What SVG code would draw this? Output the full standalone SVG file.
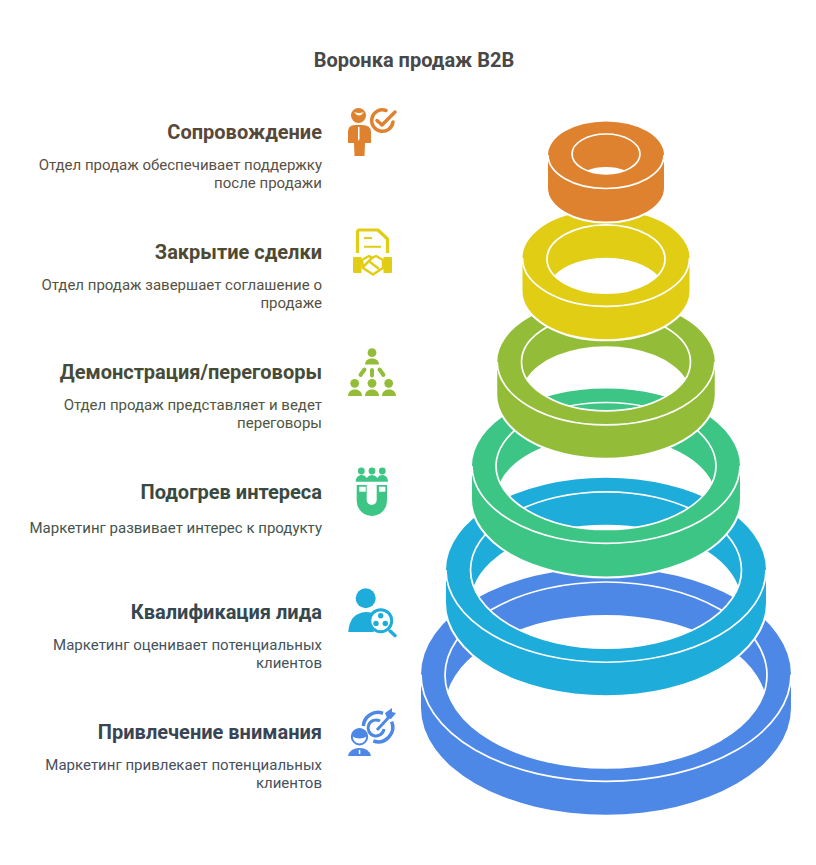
<svg xmlns="http://www.w3.org/2000/svg" width="816" height="865" viewBox="0 0 816 865">
<style>
text{font-family:Roboto,"Liberation Sans",sans-serif}
.t{font-size:20px;font-weight:700;text-anchor:end}
.d{font-size:15px;text-anchor:end}
.halo{fill:none;stroke:#fff;stroke-width:4}
.line{fill:none;stroke:#fff;stroke-width:1.700}
</style>
<rect width="816" height="865" fill="#fff"/>
<text id="title" x="414" y="67" text-anchor="middle" style="font-size:20px;font-weight:700" fill="#484848">Воронка продаж B2B</text>
<g id="connectors"/>
<g id="ring-attention">
<path class="halo" d="M421 674.500A185 106.800 0 0 1 791 674.500V708A185 106.800 0 0 1 421 708Z"/>
<path fill="#4E88E7" fill-rule="evenodd" d="M421 674.500A185 106.800 0 0 1 791 674.500V708A185 106.800 0 0 1 421 708ZM447.550 691.500A161 93 0 0 1 764.450 691.500A161 93 0 0 1 447.550 691.500Z"/>
<path class="line" d="M421 674.500A185 106.800 0 0 0 791 674.500"/>
<ellipse class="line" cx="606" cy="675" rx="161" ry="93"/>
</g>
<g id="ring-lead">
<path class="halo" d="M446 570A160 92.300 0 0 1 766 570V603A160 92.300 0 0 1 446 603Z"/>
<path fill="#1EACDB" fill-rule="evenodd" d="M446 570A160 92.300 0 0 1 766 570V603A160 92.300 0 0 1 446 603ZM473.550 586.500A135.500 78.200 0 0 1 738.450 586.500A135.500 78.200 0 0 1 473.550 586.500Z"/>
<path class="line" d="M446 570A160 92.300 0 0 0 766 570"/>
<ellipse class="line" cx="606" cy="570" rx="135.500" ry="78.200"/>
</g>
<g id="ring-interest">
<path class="halo" d="M472 466A134 77.400 0 0 1 740 466V499A134 77.400 0 0 1 472 499Z"/>
<path fill="#3DC585" fill-rule="evenodd" d="M472 466A134 77.400 0 0 1 740 466V499A134 77.400 0 0 1 472 499ZM499.800 482.500A110 63.500 0 0 1 712.200 482.500A110 63.500 0 0 1 499.800 482.500Z"/>
<path class="line" d="M472 466A134 77.400 0 0 0 740 466"/>
<ellipse class="line" cx="606" cy="466" rx="110" ry="63.500"/>
</g>
<g id="ring-demo">
<path class="halo" d="M497.250 362A108.750 62.800 0 0 1 714.750 362V395A108.750 62.800 0 0 1 497.250 395Z"/>
<path fill="#93BD38" fill-rule="evenodd" d="M497.250 362A108.750 62.800 0 0 1 714.750 362V395A108.750 62.800 0 0 1 497.250 395ZM526.500 378.500A84.500 48.800 0 0 1 685.500 378.500A84.500 48.800 0 0 1 526.500 378.500Z"/>
<path class="line" d="M497.250 362A108.750 62.800 0 0 0 714.750 362"/>
<ellipse class="line" cx="606" cy="362" rx="84.500" ry="48.800"/>
</g>
<g id="ring-close">
<path class="halo" d="M522.500 258A83.500 48.300 0 0 1 689.500 258V291A83.500 48.300 0 0 1 522.500 291Z"/>
<path fill="#E0CD14" fill-rule="evenodd" d="M522.500 258A83.500 48.300 0 0 1 689.500 258V291A83.500 48.300 0 0 1 522.500 291ZM554.300 275.500A59 34.200 0 0 1 657.700 275.500A59 34.200 0 0 1 554.300 275.500Z"/>
<path class="line" d="M522.500 258A83.500 48.300 0 0 0 689.500 258"/>
<ellipse class="line" cx="606" cy="259" rx="59" ry="34.200"/>
</g>
<g id="ring-support">
<path class="halo" d="M548 155A58 33.500 0 0 1 664 155V188A58 33.500 0 0 1 548 188Z"/>
<path fill="#DF8230" fill-rule="evenodd" d="M548 155A58 33.500 0 0 1 664 155V188A58 33.500 0 0 1 548 188ZM586.800 170.500A34 20 0 0 1 625.200 170.500A34 20 0 0 1 586.800 170.500Z"/>
<path class="line" d="M548 155A58 33.500 0 0 0 664 155"/>
<ellipse class="line" cx="606" cy="154" rx="34" ry="20"/>
</g>
<g id="label-support">
<text class="t" x="322" y="139" fill="#57483A">Сопровождение</text>
<text class="d" x="322" y="170" fill="#5A5046">Отдел продаж обеспечивает поддержку</text>
<text class="d" x="322" y="188" fill="#5A5046">после продажи</text>
</g>
<g id="label-close">
<text class="t" x="322" y="259" fill="#4D4A33">Закрытие сделки</text>
<text class="d" x="322" y="290" fill="#55523F">Отдел продаж завершает соглашение о</text>
<text class="d" x="322" y="308" fill="#55523F">продаже</text>
</g>
<g id="label-demo">
<text class="t" x="322" y="379" fill="#464B37">Демонстрация/переговоры</text>
<text class="d" x="322" y="410" fill="#50553F">Отдел продаж представляет и ведет</text>
<text class="d" x="322" y="428" fill="#50553F">переговоры</text>
</g>
<g id="label-interest">
<text class="t" x="322" y="499" fill="#384A41">Подогрев интереса</text>
<text class="d" x="322" y="533" fill="#45544D">Маркетинг развивает интерес к продукту</text>
</g>
<g id="label-lead">
<text class="t" x="322" y="619" fill="#35474F">Квалификация лида</text>
<text class="d" x="322" y="650" fill="#44535A">Маркетинг оценивает потенциальных</text>
<text class="d" x="322" y="668" fill="#44535A">клиентов</text>
</g>
<g id="label-attention">
<text class="t" x="322" y="739" fill="#394454">Привлечение внимания</text>
<text class="d" x="322" y="770" fill="#47505E">Маркетинг привлекает потенциальных</text>
<text class="d" x="322" y="788" fill="#47505E">клиентов</text>
</g>
<g id="icon-support" fill="#DF8230">
<circle cx="358.500" cy="115.500" r="7.500"/>
<path d="M354 112Q359 119 364 112Q359 114 354 112Z" fill="#fff"/>
<path d="M348 143V132Q348 125 355 125H362Q371 125 371 132V143H365L364.500 156H354.500L354 143Z"/>
<path d="M358 127H359.500V139L358.750 141L358 139Z" fill="#fff"/>
<path d="M386 110.500A10.700 10.700 0 1 0 393 122" fill="none" stroke="#DF8230" stroke-width="3.500" stroke-linecap="round"/>
<path d="M377 120.500L382 125L395 112" fill="none" stroke="#DF8230" stroke-width="3.500" stroke-linecap="round" stroke-linejoin="round"/>
</g>
<g id="icon-close" fill="#E0CD14">
<path d="M357.500 253V232Q357.500 230 359.500 230H378L387.500 239V253" fill="none" stroke="#E0CD14" stroke-width="3.200" stroke-linejoin="round"/>
<path d="M364 238H372M364 246.700H381" stroke="#E0CD14" stroke-width="2" fill="none"/>
<path d="M354 257H361.500V273H354Q353 273 353 272V258Q353 257 354 257ZM383.500 257H391Q392 257 392 258V272Q392 273 391 273H383.500Z"/>
<path d="M362 260L369 256L372 258L376 256L383 260V268L373 274.500L363 268Z" fill="none" stroke="#E0CD14" stroke-width="2.500" stroke-linejoin="round"/>
<path d="M363 267L372 258M370 262L379 269" fill="none" stroke="#E0CD14" stroke-width="2.500"/>
</g>
<g id="icon-demo" fill="#93BD38">
<circle cx="372" cy="352.700" r="4.400"/>
<path d="M365 364.500C365 360 369 358.500 372 358.500S379 360 379 364.500Z"/>
<path d="M360.500 375L364.500 369.500M372 370V375.500M383.500 375L379.500 369.500" stroke="#93BD38" stroke-width="4" stroke-linecap="round"/>
<circle cx="354.700" cy="383.300" r="4.400"/><path d="M348 396C348 391 352 389.500 355 389.500S362 391 362 396Z"/>
<circle cx="372" cy="383.300" r="4.400"/><path d="M365 396C365 391 369 389.500 372 389.500S379 391 379 396Z"/>
<circle cx="388.700" cy="383.300" r="4.400"/><path d="M382 396C382 391 386 389.500 389 389.500S396 391 396 396Z"/>
</g>
<g id="icon-interest" fill="#3DC585">
<circle cx="361.300" cy="471" r="3.400"/><circle cx="372" cy="471" r="3.400"/><circle cx="382.300" cy="471" r="3.400"/>
<path d="M355.700 481.700C356 477 359 475 361.300 475Q365 475 366.500 478Q369 475 372 475T377.500 478Q379 475 382.300 475C385 475 388 477 388 481.700Z"/>
<path d="M356.700 485H387V501A15.150 15 0 0 1 356.700 501Z"/>
<path d="M366.700 485H376.700V500A5 5 0 0 1 366.700 500Z" fill="#fff"/>
<rect x="359.300" y="486.700" width="6.400" height="5" fill="#fff"/>
<rect x="379" y="486.700" width="6.400" height="5" fill="#fff"/>
</g>
<g id="icon-lead" fill="#1EACDB">
<circle cx="365.700" cy="598.300" r="10"/>
<path d="M348.300 632Q349.500 613 366 612Q372 612 374 614Q368 624 374 632Z"/>
<path d="M390 631L395 635.500" stroke="#1EACDB" stroke-width="3.500" stroke-linecap="round"/>
<circle cx="380.700" cy="620.700" r="11" fill="#fff" stroke="#1EACDB" stroke-width="3"/>
<circle cx="380.700" cy="615.700" r="2.700"/><circle cx="376" cy="623.500" r="2.700"/><circle cx="385.300" cy="623.500" r="2.700"/>
</g>
<g id="icon-attention" fill="#4E88E7">
<path d="M383 713.300A14.700 14.700 0 0 0 363.300 726M373.300 741A14.700 14.700 0 0 0 391.700 721.700" fill="none" stroke="#4E88E7" stroke-width="3.500"/>
<path d="M380 721A8 8 0 1 0 384 729" fill="none" stroke="#4E88E7" stroke-width="3"/>
<path d="M377 730L390 716" stroke="#4E88E7" stroke-width="3"/>
<path d="M385 713L392 708L392 712L396 713L391 719L387 718Z"/>
<circle cx="359.500" cy="736.700" r="7.700" fill="#fff" stroke="#4E88E7" stroke-width="2"/>
<path d="M351.500 736Q359.500 741 367.500 736Q366 728.500 359.500 728.500Q353 728.500 351.500 736Z"/>
<path d="M348 756Q350 748 359.500 748Q369 748 371 756Z"/>
<rect x="358.800" y="750" width="1.500" height="4" fill="#fff"/>
</g>
</svg>
